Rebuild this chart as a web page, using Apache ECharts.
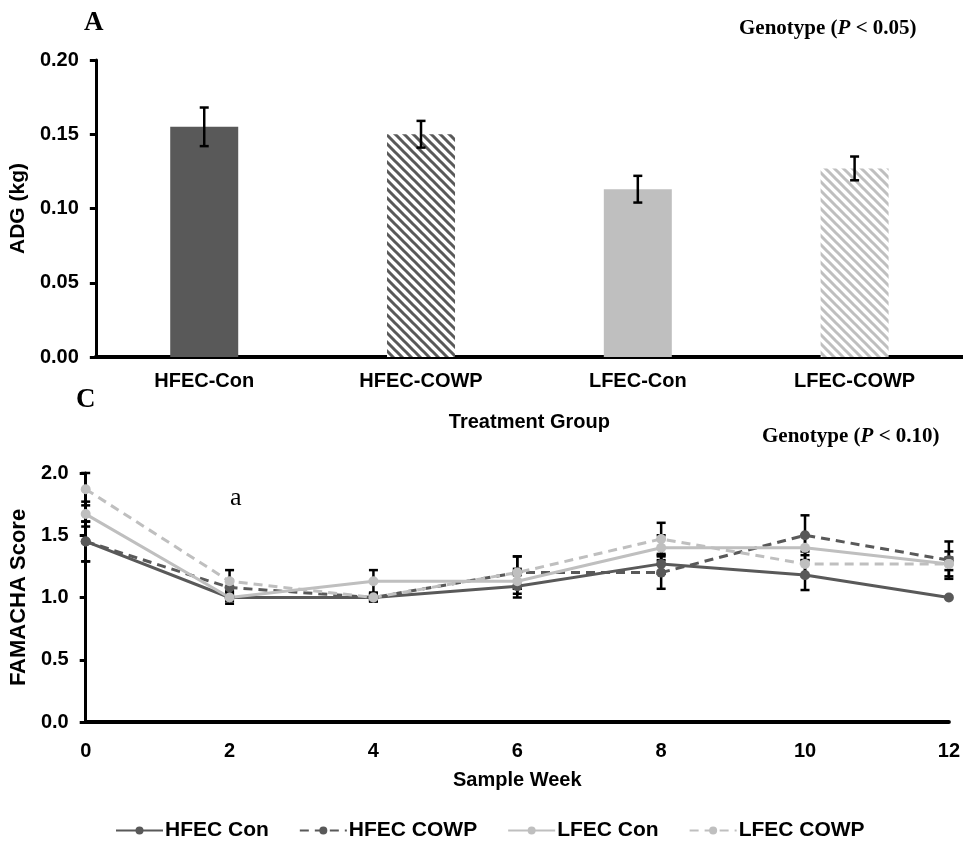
<!DOCTYPE html>
<html>
<head>
<meta charset="utf-8">
<script src="https://cdn.jsdelivr.net/npm/echarts@6/dist/echarts.min.js"></script>
<style>
html,body{margin:0;padding:0;background:#fff;}
#chart{width:963px;height:851px;}
</style>
</head>
<body>
<div id="chart"></div>
<script>
// panel A - ADG by treatment group
var groups = ['HFEC-Con', 'HFEC-COWP', 'LFEC-Con', 'LFEC-COWP'];
var adg = [0.155, 0.150, 0.113, 0.127];
var adgErr = [0.013, 0.009, 0.009, 0.008];

// panel C - FAMACHA by week
var weeks = [0, 2, 4, 6, 8, 10, 12];
var seriesNames = ['HFEC Con', 'HFEC COWP', 'LFEC Con', 'LFEC COWP'];
var hfecCon = [1.45, 1.00, 1.00, 1.09, 1.27, 1.18, 1.00];
var hfecCowp = [1.45, 1.08, 1.00, 1.20, 1.20, 1.50, 1.30];
var lfecCon = [1.67, 1.00, 1.13, 1.13, 1.40, 1.40, 1.27];
var lfecCowp = [1.87, 1.13, 1.00, 1.20, 1.47, 1.27, 1.27];
var hfecConErr = [0.16, 0.05, 0.03, 0.09, 0.08, 0.12, 0.00];
var hfecCowpErr = [0.16, 0.06, 0.03, 0.13, 0.13, 0.16, 0.15];
var lfecConErr = [0.10, 0.03, 0.09, 0.10, 0.10, 0.10, 0.05];
var lfecCowpErr = [0.13, 0.09, 0.03, 0.13, 0.13, 0.10, 0.10];

var DARK = '#595959', LIGHT = '#bfbfbf';
var SANS = '"Liberation Sans", Arial, sans-serif';
var SERIF = '"Liberation Serif", "Times New Roman", serif';

function hatch(color) {
	var c = document.createElement('canvas');
	c.width = 9; c.height = 9;
	var ctx = c.getContext('2d');
	ctx.fillStyle = '#fff';
	ctx.fillRect(0, 0, 9, 9);
	ctx.strokeStyle = color;
	ctx.lineWidth = 3;
	ctx.beginPath();
	ctx.moveTo(-2, -2); ctx.lineTo(11, 11);
	ctx.moveTo(-11, -2); ctx.lineTo(2, 11);
	ctx.moveTo(7, -2); ctx.lineTo(20, 11);
	ctx.stroke();
	return {image: c, repeat: 'repeat'};
}
var barColors = [DARK, hatch(DARK), LIGHT, hatch(LIGHT)];

function errRender(params, api) {
	var x = api.value(0), y = api.value(1), e = api.value(2);
	if (!e) return;
	var hi = api.coord([x, y + e]);
	var lo = api.coord([x, y - e]);
	var st = {stroke: '#000', lineWidth: 2.5};
	return {
		type: 'group',
		children: [
			{type: 'line', shape: {x1: hi[0], y1: hi[1], x2: lo[0], y2: lo[1]}, style: st},
			{type: 'line', shape: {x1: hi[0] - 4.5, y1: hi[1], x2: hi[0] + 4.5, y2: hi[1]}, style: st},
			{type: 'line', shape: {x1: lo[0] - 4.5, y1: lo[1], x2: lo[0] + 4.5, y2: lo[1]}, style: st}
		]
	};
}

function each(arr, fn) { for (var i = 0; i < arr.length; i++) fn(i, arr[i]); }

var barData = [], barErr = [];
each(adg, function (i, v) {
	barData.push({value: v, itemStyle: {color: barColors[i]}});
	barErr.push([i, v, adgErr[i]]);
});

var lineVals = [hfecCon, hfecCowp, lfecCon, lfecCowp];
var lineErrs = [hfecConErr, hfecCowpErr, lfecConErr, lfecCowpErr];
var lineColors = [DARK, DARK, LIGHT, LIGHT];
var lineTypes = ['solid', [9, 6], 'solid', [9, 6]];

var series = [
	{type: 'bar', xAxisIndex: 0, yAxisIndex: 0, data: barData, barWidth: 68, z: 2},
	{type: 'custom', xAxisIndex: 0, yAxisIndex: 0, data: barErr, renderItem: errRender, z: 3, silent: true}
];
each(lineVals, function (k, vals) {
	var pts = [], errs = [];
	each(weeks, function (i, w) {
		pts.push([w, vals[i]]);
		errs.push([w, vals[i], lineErrs[k][i]]);
	});
	series.push({
		type: 'custom', xAxisIndex: 1, yAxisIndex: 1, data: errs, renderItem: errRender, z: 2, silent: true
	});
	series.push({
		name: seriesNames[k], type: 'line', xAxisIndex: 1, yAxisIndex: 1, data: pts,
		symbol: 'circle', symbolSize: 10, z: 3,
		itemStyle: {color: lineColors[k]},
		lineStyle: {color: lineColors[k], width: 3, type: lineTypes[k]}
	});
});

function font(size) {
	return {fontFamily: SANS, fontWeight: 'bold', fontSize: size, color: '#000'};
}
var genRich = {
	b: {fontFamily: SERIF, fontWeight: 'bold', fontSize: 21, color: '#000'},
	i: {fontFamily: SERIF, fontWeight: 'bold', fontStyle: 'italic', fontSize: 21, color: '#000'}
};

var option = {
	animation: false,
	backgroundColor: '#fff',
	grid: [
		{left: 95, right: 0, top: 60, height: 297},
		{left: 85, right: 11, top: 473, height: 249}
	],
	xAxis: [
		{
			gridIndex: 0, type: 'category', data: groups,
			axisLine: {lineStyle: {color: '#000', width: 4}},
			axisTick: {show: false},
			axisLabel: Object.assign(font(20), {margin: 14}),
			name: 'Treatment Group', nameLocation: 'middle', nameGap: 55,
			nameTextStyle: font(20)
		},
		{
			gridIndex: 1, type: 'value', min: 0, max: 12, interval: 2,
			splitLine: {show: false},
			axisLine: {lineStyle: {color: '#000', width: 4}},
			axisTick: {show: false},
			axisLabel: Object.assign(font(20), {margin: 19}),
			name: 'Sample Week', nameLocation: 'middle', nameGap: 48,
			nameTextStyle: font(20)
		}
	],
	yAxis: [
		{
			gridIndex: 0, type: 'value', min: 0, max: 0.2, interval: 0.05,
			splitLine: {show: false},
			axisLine: {show: true, lineStyle: {color: '#000', width: 3}},
			axisTick: {show: true, length: 6, lineStyle: {color: '#000', width: 3}},
			axisLabel: Object.assign(font(20), {margin: 17, formatter: function (v) { return v.toFixed(2); }}),
			name: 'ADG (kg)', nameLocation: 'middle', nameGap: 66,
			nameTextStyle: font(21)
		},
		{
			gridIndex: 1, type: 'value', min: 0, max: 2, interval: 0.5,
			splitLine: {show: false},
			axisLine: {show: true, lineStyle: {color: '#000', width: 3}},
			axisTick: {show: true, length: 6, lineStyle: {color: '#000', width: 3}},
			axisLabel: Object.assign(font(20), {margin: 17, formatter: function (v) { return v.toFixed(1); }}),
			name: 'FAMACHA Score', nameLocation: 'middle', nameGap: 54,
			nameTextStyle: font(22)
		}
	],
	legend: {
		data: seriesNames, bottom: 5, left: 110,
		itemWidth: 47, itemHeight: 10, itemGap: 30,
		textStyle: Object.assign(font(21), {padding: [0, 0, 0, -3]})
	},
	graphic: [
		{type: 'text', left: 84, top: 10, style: {text: 'A', font: 'bold 27px ' + SERIF, fill: '#000'}},
		{type: 'text', left: 76, top: 387, style: {text: 'C', font: 'bold 27px ' + SERIF, fill: '#000'}},
		{type: 'text', left: 230, top: 485, style: {text: 'a', font: '26px ' + SERIF, fill: '#000'}},
		{type: 'text', left: 739, top: 18, style: {text: '{b|Genotype (}{i|P}{b| < 0.05)}', rich: genRich}},
		{type: 'text', left: 762, top: 426, style: {text: '{b|Genotype (}{i|P}{b| < 0.10)}', rich: genRich}}
	],
	series: series
};

var chart = echarts.init(document.getElementById('chart'));
chart.setOption(option);
</script>
</body>
</html>
